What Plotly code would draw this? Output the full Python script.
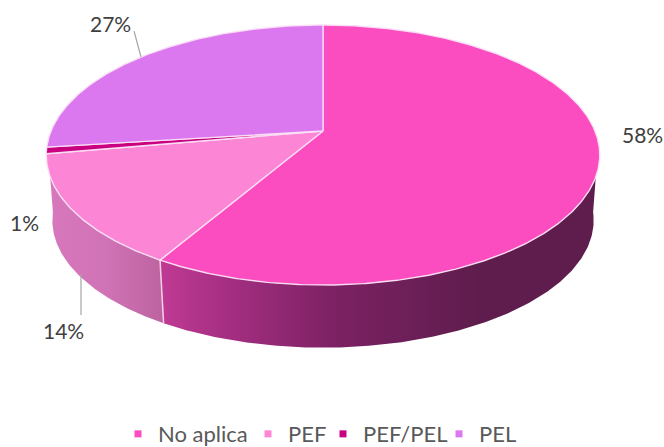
import numpy as np
import plotly.graph_objects as go

categories = ["No aplica", "PEF", "PEF/PEL", "PEL"]
values = [58.4, 13.8, 0.8, 27.0]
colors = ["#FB4CC0", "#FC85D6", "#C9007F", "#DC78EF"]
label_pos = [(642, 134), (63, 330), (24, 222), (110, 23)]
legend_text_x = [160, 290, 365, 481]

W, H = 664, 447
CX, CY = 323, 131
A, B, K = 272, 125.6, 0.1846
BASE_SCALE, BASE_DY = 0.978, 66
TOP_RIGHT, TOP_LEFT = 110, 250
BOT_RIGHT, BOT_LEFT = 97, 263


def project(theta_deg, r=1.0, scale=1.0, dy=0.0):
    t = np.radians(np.asarray(theta_deg, dtype=float))
    u, v = r * np.sin(t), r * np.cos(t)
    w = 1 + K * v
    return CX + scale * A * u / w, CY + dy - scale * B * v / w


def arc(a, b, scale=1.0, dy=0.0):
    n = max(int(abs(b - a) * 2), 2)
    return project(np.linspace(a, b, n), scale=scale, dy=dy)


cum = np.cumsum([0] + values) / sum(values) * 360
fig = go.Figure()


def wall(top_a, top_b, bot_a, bot_b, stops):
    x1, y1 = arc(top_a, top_b)
    x2, y2 = arc(bot_b, bot_a, BASE_SCALE, BASE_DY)
    fig.add_trace(go.Scatter(
        x=np.r_[x1, x2, x1[0]], y=np.r_[y1, y2, y1[0]], mode="lines", fill="toself",
        line=dict(width=0, color="rgba(0,0,0,0)"), showlegend=False, hoverinfo="skip",
        fillgradient=dict(type="horizontal", colorscale=stops)))


# side walls (gradient stops run left to right)
wall(TOP_RIGHT, cum[1], BOT_RIGHT, cum[1],
     [[0, "#C03A94"], [0.15, "#A52F83"], [0.4, "#7C2163"], [0.73, "#5F1D4D"], [1, "#5F1D4D"]])
wall(cum[1], TOP_LEFT, cum[1], BOT_LEFT,
     [[0, "#D878BC"], [0.5, "#D072B6"], [1, "#BD639F"]])

# seam between the two visible wall segments
sx1, sy1 = project(cum[1])
sx2, sy2 = project(cum[1], scale=BASE_SCALE, dy=BASE_DY)
fig.add_trace(go.Scatter(x=[sx1, sx2], y=[sy1, sy2], mode="lines",
                         line=dict(color="#F4D3EA", width=1.5), showlegend=False, hoverinfo="skip"))

# top faces
for i, c in enumerate(colors):
    ax, ay = arc(cum[i], cum[i + 1])
    fig.add_trace(go.Scatter(
        x=np.r_[CX, ax, CX], y=np.r_[CY, ay, CY], mode="lines", fill="toself", fillcolor=c,
        line=dict(color="rgba(250,225,245,0.95)", width=1.4), showlegend=False, hoverinfo="skip"))

# legend entries, one positioned legend per category
legend_layout = {}
for i, (name, c, tx) in enumerate(zip(categories, colors, legend_text_x)):
    key = "legend" if i == 0 else f"legend{i + 1}"
    fig.add_trace(go.Scatter(x=[None], y=[None], mode="markers", name=name, legend=key, showlegend=True,
                             marker=dict(symbol="square", size=7, color=c)))
    legend_layout[key] = dict(x=(tx - 42) / W, xanchor="left", y=-0.018, yanchor="bottom",
                              font=dict(family="Lato", size=22, color="#595959"),
                              itemwidth=30, bgcolor="rgba(0,0,0,0)")

# leader lines
for xs, ys in [((134, 141), (31, 57)), ((81, 81), (274, 315))]:
    fig.add_trace(go.Scatter(x=xs, y=ys, mode="lines", line=dict(color="#A6A6A6", width=1.2),
                             showlegend=False, hoverinfo="skip"))

for v, (lx, ly) in zip(values, label_pos):
    fig.add_annotation(x=lx, y=ly, text=f"{v:.0f}%", showarrow=False,
                       font=dict(family="Lato", size=21, color="#404040"))

fig.update_layout(
    width=W, height=H, autosize=False, margin=dict(l=0, r=0, t=0, b=0, autoexpand=False),
    paper_bgcolor="white", plot_bgcolor="white",
    xaxis=dict(range=[0, W], visible=False, fixedrange=True),
    yaxis=dict(range=[H, 0], visible=False, fixedrange=True),
    **legend_layout,
)
fig.write_html("out.html", config={"displayModeBar": False},
               post_script="document.body.style.margin='0';document.documentElement.style.overflow='hidden';")
